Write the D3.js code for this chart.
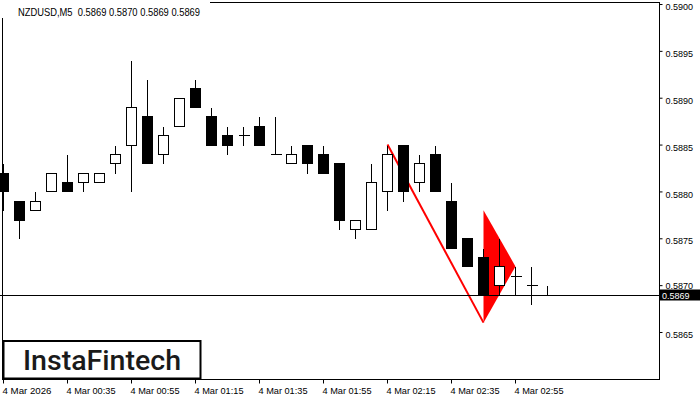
<!DOCTYPE html>
<html>
<head>
<meta charset="utf-8">
<script src="https://cdn.jsdelivr.net/npm/d3@7/dist/d3.min.js"></script>
<style>
  html, body { margin: 0; padding: 0; background: #fff; }
  svg { display: block; }
</style>
</head>
<body>
<svg id="chart" width="700" height="400"></svg>
<script>
// ---- data ----
const times = ["00:15","00:20","00:25","00:30","00:35","00:40","00:45","00:50","00:55","01:00",
               "01:05","01:10","01:15","01:20","01:25","01:30","01:35","01:40","01:45","01:50",
               "01:55","02:00","02:05","02:10","02:15","02:20","02:25","02:30","02:35","02:40",
               "02:45","02:50","02:55","03:00","03:05"];
const open  = [0.5882,0.5879,0.5878,0.5880,0.5881,0.5881,0.5881,0.5883,0.5885,0.5888,
               0.5884,0.5887,0.5891,0.5888,0.5886,0.5886,0.5887,0.5884,0.5883,0.5885,
               0.5884,0.5883,0.5876,0.5876,0.5880,0.5885,0.5881,0.5884,0.5879,0.5875,
               0.5873,0.5870,0.5871,0.5870,0.5869];
const high  = [0.5883,0.5879,0.5880,0.5882,0.5884,0.5882,0.5882,0.5885,0.5894,0.5892,
               0.5887,0.5890,0.5892,0.5889,0.5887,0.5887,0.5888,0.5888,0.5885,0.5885,
               0.5885,0.5883,0.5877,0.5883,0.5885,0.5885,0.5884,0.5885,0.5881,0.5875,
               0.5874,0.5875,0.5872,0.5872,0.5870];
const low   = [0.5878,0.5875,0.5878,0.5880,0.5880,0.5880,0.5881,0.5882,0.5880,0.5883,
               0.5883,0.5887,0.5889,0.5885,0.5884,0.5885,0.5885,0.5884,0.5883,0.5882,
               0.5882,0.5876,0.5875,0.5876,0.5878,0.5879,0.5880,0.5880,0.5874,0.5872,
               0.5869,0.5869,0.5869,0.5868,0.5869];
const close = [0.5880,0.5877,0.5879,0.5882,0.5880,0.5882,0.5882,0.5884,0.5889,0.5883,
               0.5886,0.5890,0.5889,0.5885,0.5885,0.5886,0.5885,0.5884,0.5884,0.5883,
               0.5882,0.5877,0.5877,0.5881,0.5884,0.5880,0.5883,0.5880,0.5874,0.5872,
               0.5869,0.5872,0.5871,0.5870,0.5869];

const yTicks = [0.5865,0.5870,0.5875,0.5880,0.5885,0.5890,0.5895,0.5900];
const xTickTimes  = ["00:15","00:35","00:55","01:15","01:35","01:55","02:15","02:35","02:55"];
const xTickLabels = ["4 Mar 2026","4 Mar 00:35","4 Mar 00:55","4 Mar 01:15","4 Mar 01:35",
                     "4 Mar 01:55","4 Mar 02:15","4 Mar 02:35","4 Mar 02:55"];

const titleText = "NZDUSD,M5  0.5869 0.5870 0.5869 0.5869";
const currentPrice = 0.5869;

// pattern (flag pole + pennant)
const poleTimes  = ["02:15","02:45"];
const polePrices = [0.5885,0.5866];
const pennantTimes  = ["02:45","02:55","02:45"];
const pennantPrices = [0.5878,0.5872,0.5866];

// ---- drawing ----
const svg = d3.select("#chart");
const L = 2.5, R = 659.5, T = 2.5, B = 379.5;

const x = d3.scalePoint().domain(times).range([3, 547]);
const y = d3.scaleLinear().domain([0.5865, 0.5900]).range([332, 4]);
const cy = v => Math.round(y(v)) + 0.5;
const cx = t => Math.round(x(t)) + 0.5;

// frame
svg.append("rect").attr("x", L).attr("y", T).attr("width", R - L).attr("height", B - T)
  .attr("fill", "#fff").attr("stroke", "#000").attr("stroke-width", 1);

// pattern (behind candles)
svg.append("line")
  .attr("x1", x(poleTimes[0]) + 0.5).attr("y1", y(polePrices[0]))
  .attr("x2", x(poleTimes[1]) + 0.5).attr("y2", y(polePrices[1]))
  .attr("stroke", "#ff0000").attr("stroke-width", 2);
svg.append("path")
  .attr("d", d3.line()(pennantTimes.map((t, i) => [x(t) + 0.5, y(pennantPrices[i])])) + "Z")
  .attr("fill", "#ff0000").attr("stroke", "none");

const candles = times.map((t, i) => ({t, o: open[i], h: high[i], l: low[i], c: close[i]}));

const g = svg.append("g");
// wicks
g.selectAll("line.wick").data(candles).join("line")
  .attr("class", "wick")
  .attr("x1", d => cx(d.t)).attr("x2", d => cx(d.t))
  .attr("y1", d => cy(d.h)).attr("y2", d => cy(d.l) + 0.5)
  .attr("stroke", "#000").attr("stroke-width", 1).attr("shape-rendering", "crispEdges");

// bodies
const bodies = candles.filter(d => d.o !== d.c);
g.selectAll("rect.body").data(bodies).join("rect")
  .attr("class", "body")
  .attr("x", d => cx(d.t) - 5)
  .attr("y", d => cy(Math.max(d.o, d.c)))
  .attr("width", 10)
  .attr("height", d => cy(Math.min(d.o, d.c)) - cy(Math.max(d.o, d.c)))
  .attr("fill", d => d.c > d.o ? "#fff" : "#000")
  .attr("stroke", "#000").attr("stroke-width", 1).attr("shape-rendering", "crispEdges");

// doji
const dojis = candles.filter(d => d.o === d.c);
g.selectAll("line.doji").data(dojis).join("line")
  .attr("class", "doji")
  .attr("x1", d => cx(d.t) - 5).attr("x2", d => cx(d.t) + 6)
  .attr("y1", d => cy(d.c)).attr("y2", d => cy(d.c))
  .attr("stroke", "#000").attr("stroke-width", 1).attr("shape-rendering", "crispEdges");

// current price line
const py = cy(currentPrice);
svg.append("line").attr("x1", 0).attr("x2", R).attr("y1", py).attr("y2", py)
  .attr("stroke", "#000").attr("stroke-width", 1).attr("shape-rendering", "crispEdges");

// y axis
const yAxis = svg.append("g").attr("transform", `translate(${R},0)`)
  .call(d3.axisRight(y).tickValues(yTicks).tickFormat(d3.format(".4f")).tickSize(3).tickPadding(3));
yAxis.select(".domain").remove();
yAxis.selectAll("text").attr("font-family", "'Liberation Sans', Arial, sans-serif")
  .attr("font-size", 9).attr("fill", "#000").attr("dy", "0.62em");
yAxis.selectAll("line").attr("stroke", "#000");
// keep the 0.5870 label clear of the price tag
yAxis.selectAll(".tick").filter(d => Math.abs(d - 0.5870) < 1e-9).select("text").attr("dy", "0.35em");

// price label
svg.append("rect").attr("x", 659).attr("y", py - 6).attr("width", 41).attr("height", 11).attr("fill", "#000");
svg.append("text").attr("x", 662).attr("y", py + 3.5)
  .attr("font-family", "'Liberation Sans', Arial, sans-serif").attr("font-size", 9)
  .attr("fill", "#fff").text(d3.format(".4f")(currentPrice));

// x axis
const labelOf = t => xTickLabels[xTickTimes.indexOf(t)];
const xAxis = svg.append("g").attr("transform", `translate(0,${B})`)
  .call(d3.axisBottom(x).tickValues(xTickTimes).tickFormat(labelOf).tickSize(4).tickPadding(3));
xAxis.select(".domain").remove();
xAxis.selectAll("line").attr("stroke", "#000");
xAxis.selectAll("text").attr("font-family", "'Liberation Sans', Arial, sans-serif")
  .attr("font-size", 9.5).attr("fill", "#000").attr("text-anchor", "start")
  .attr("dx", -1).attr("dy", "0.75em")
  .attr("textLength", 49).attr("lengthAdjust", "spacingAndGlyphs");

// title
svg.append("rect").attr("x", 0).attr("y", 0).attr("width", 210).attr("height", 18).attr("fill", "#fff");
svg.append("text").attr("x", 18).attr("y", 16)
  .attr("font-family", "'Liberation Sans', Arial, sans-serif").attr("font-size", 10.5)
  .attr("fill", "#000").style("white-space", "pre")
  .attr("textLength", 182).attr("lengthAdjust", "spacingAndGlyphs")
  .text(titleText);

// logo
svg.append("rect").attr("x", 3.5).attr("y", 341).attr("width", 197).attr("height", 37.5)
  .attr("fill", "#fff").attr("stroke", "#000").attr("stroke-width", 2);
svg.append("text").attr("x", 23).attr("y", 370)
  .attr("font-family", "Roboto, 'Open Sans', sans-serif").attr("font-weight", 500)
  .attr("font-size", 28).attr("fill", "#1a1a1a")
  .attr("textLength", 158).attr("lengthAdjust", "spacingAndGlyphs")
  .text("InstaFintech");
</script>
</body>
</html>
